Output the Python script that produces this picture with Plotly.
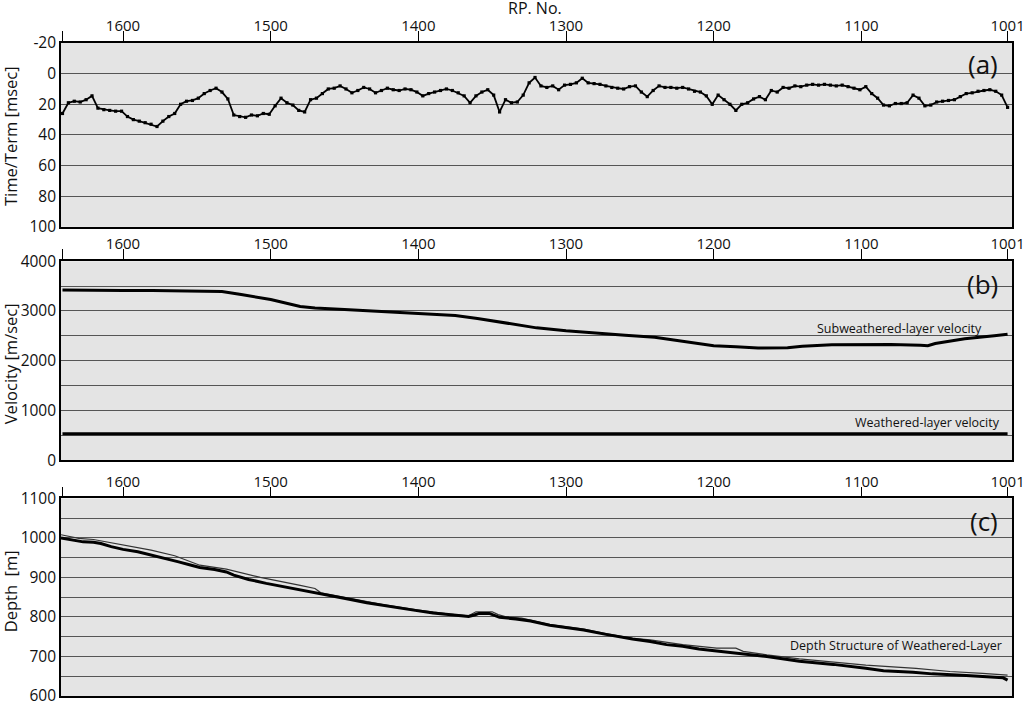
import plotly.graph_objects as go

# ---------------- data ----------------
# (a) Time/Term [msec] vs RP number (every 4 RP from 1641 to 1001)
rp_a = list(range(1641, 1000, -4))
term_a = [26, 19, 18, 18.5, 17, 14.5, 22.5, 23.5, 24, 24.5,
          24.5, 28, 30, 31, 32, 33, 34.5, 31, 28, 26,
          20, 18, 17.5, 16, 13, 11, 9.5, 12, 16.5, 27,
          28, 28.5, 27, 27.5, 26, 26.5, 21, 16, 19, 20.5,
          24, 25, 17, 16, 13, 10, 9.5, 8, 10, 12.5,
          11, 9, 10, 12.5, 11, 9.5, 10.5, 11, 10, 10.5,
          12, 14.5, 13, 12, 11, 10, 11, 12.5, 14.5, 19,
          14.5, 12, 10.5, 14, 25, 17, 19, 18.5, 14, 6,
          2.5, 8, 9, 8, 10.5, 7.5, 7, 6, 3, 6,
          6.5, 7, 8, 9, 9.5, 10, 8.5, 8, 12, 15,
          11, 8, 9, 9, 9.5, 9, 10, 11.5, 12, 14.5,
          20, 14, 17, 20, 24, 20, 19, 16.5, 15, 17,
          11, 12, 9, 9.5, 8, 8.5, 7.5, 7, 7.5, 7,
          7.5, 8, 7.5, 8.5, 9.5, 10.5, 8.5, 13, 16, 20.5,
          21, 19.5, 19.5, 19, 14, 16, 21, 20.5, 18.5, 18,
          17.5, 17, 15, 13, 12.5, 11.5, 11, 10.5, 11.5, 14,
          22]

# (b) velocities [m/sec]
rp_b = [1641, 1620, 1600, 1580, 1563, 1560, 1533, 1520, 1500, 1480,
        1470, 1450, 1430, 1410, 1390, 1375, 1360, 1340, 1320, 1300,
        1280, 1260, 1240, 1220, 1200, 1185, 1170, 1150, 1140, 1120,
        1100, 1080, 1060, 1055, 1050, 1030, 1010, 1001]
v_sub = [3420, 3410, 3410, 3410, 3405, 3390, 3390, 3330, 3230, 3090,
         3060, 3030, 3000, 2975, 2940, 2910, 2850, 2760, 2660, 2600,
         2550, 2510, 2470, 2380, 2300, 2280, 2255, 2260, 2290, 2320,
         2325, 2325, 2310, 2300, 2345, 2440, 2500, 2530]
rp_w = [1641, 1001]
v_weath = [530, 530]

# (c) depth [m]
rp_c1 = [1642, 1637, 1627, 1620, 1615, 1608, 1600, 1590, 1581, 1570,
         1563, 1555, 1548, 1538, 1530, 1525, 1515, 1503, 1490, 1480,
         1467, 1457, 1446, 1435, 1424, 1412, 1401, 1390, 1379, 1366,
         1362, 1359, 1352, 1348, 1345, 1334, 1324, 1311, 1300, 1288,
         1273, 1255, 1243, 1232, 1221, 1210, 1198, 1182, 1164, 1142,
         1119, 1097, 1085, 1065, 1052, 1029, 1010, 1004, 1001]
depth_thick = [1000, 997, 990, 989, 986, 978, 971, 965, 957, 948,
               940, 932, 925, 920, 914, 906, 895, 885, 876, 868,
               859, 853, 844, 836, 829, 822, 816, 810, 805, 801,
               805, 809, 809, 804, 799, 795, 790, 779, 773, 767,
               756, 744, 738, 730, 726, 719, 714, 708, 700, 688,
               680, 670, 664, 660, 656, 652, 648, 646, 640]
rp_c2 = [1642, 1630, 1620, 1600, 1581, 1565, 1548, 1530, 1507, 1480,
         1470, 1466, 1446, 1424, 1401, 1379, 1366, 1361, 1350, 1346,
         1340, 1330, 1311, 1288, 1273, 1255, 1243, 1221, 1198, 1185,
         1180, 1164, 1142, 1119, 1097, 1063, 1040, 1018, 1001]
depth_thin = [1008, 999, 996, 982, 969, 955, 931, 921, 900, 880,
              872, 861, 846, 831, 818, 807, 803, 813, 813, 806,
              800, 797, 781, 769, 758, 746, 742, 730, 721, 721,
              713, 704, 694, 685, 678, 670, 662, 657, 653]

x_ticks = [1641, 1600, 1500, 1400, 1300, 1200, 1100, 1001]
x_ticktext = ["", "1600", "1500", "1400", "1300", "1200", "1100", "1001"]

FONT = "Open Sans"
BG = "#e4e4e4"
GRID = "#555555"

fig = go.Figure()
fig.add_trace(go.Scatter(x=rp_a, y=term_a, mode="lines+markers",
                         line=dict(color="black", width=1.8),
                         marker=dict(color="black", size=3.2, symbol="square"),
                         xaxis="x", yaxis="y", showlegend=False))
fig.add_trace(go.Scatter(x=rp_b, y=v_sub, mode="lines",
                         line=dict(color="black", width=3),
                         xaxis="x2", yaxis="y2", showlegend=False))
fig.add_trace(go.Scatter(x=rp_w, y=v_weath, mode="lines",
                         line=dict(color="black", width=3),
                         xaxis="x2", yaxis="y2", showlegend=False))
fig.add_trace(go.Scatter(x=rp_c2, y=depth_thin, mode="lines",
                         line=dict(color="#333333", width=1.2),
                         xaxis="x3", yaxis="y3", showlegend=False))
fig.add_trace(go.Scatter(x=rp_c1, y=depth_thick, mode="lines",
                         line=dict(color="black", width=3),
                         xaxis="x3", yaxis="y3", showlegend=False))

def xax(anchor):
    return dict(range=[1642, 998], anchor=anchor, side="top",
                tickvals=x_ticks, ticktext=x_ticktext,
                ticks="outside", ticklen=10, tickwidth=1.2, tickcolor="black",
                ticklabelstandoff=-6,
                showgrid=False, zeroline=False, automargin=False,
                ticklabeloverflow="allow",
                showline=True, mirror=True, linecolor="black", linewidth=1.6,
                tickfont=dict(family=FONT, size=15, color="#111"))

def yax(domain, rng, vals, text):
    return dict(domain=domain, range=rng, anchor=None,
                tickvals=vals, ticktext=text, ticks="",
                showgrid=True, gridcolor=GRID, gridwidth=1.2,
                zeroline=False, automargin=False,
                ticklabeloverflow="allow",
                showline=True, mirror=True, linecolor="black", linewidth=1.6,
                tickfont=dict(family=FONT, size=15.5, color="#111"))

ya = yax([0.7184, 1.0], [100, -20], [-20, 0, 20, 40, 60, 80, 100],
         ["-20", "0", "20", "40", "60", "80", "100"])
ya["anchor"] = "x"
yb = yax([0.3612, 0.6658], [0, 4000],
         [0, 500, 1000, 1500, 2000, 2500, 3000, 3500, 4000],
         ["0", "", "1000", "", "2000", "", "3000", "", "4000"])
yb["anchor"] = "x2"
yc = yax([0.0, 0.3026], [600, 1100],
         [600, 650, 700, 750, 800, 850, 900, 950, 1000, 1050, 1100],
         ["600", "", "700", "", "800", "", "900", "", "1000", "", "1100"])
yc["anchor"] = "x3"

fig.update_layout(
    width=1023, height=702,
    margin=dict(l=61, r=11, t=43, b=6, autoexpand=False),
    paper_bgcolor="white", plot_bgcolor=BG,
    font=dict(family=FONT, color="#111"),
    xaxis=xax("y"), xaxis2=xax("y2"), xaxis3=xax("y3"),
    yaxis=ya, yaxis2=yb, yaxis3=yc,
)

ann = []
# axis titles
ann.append(dict(text="RP. No.", xref="paper", yref="paper", x=0.498, y=1.0535,
                xanchor="center", yanchor="middle", showarrow=False,
                font=dict(family=FONT, size=16)))
for txt, yy in [("Time/Term [msec]", 0.857), ("Velocity [m/sec]", 0.509),
                ("Depth  [m]", 0.1597)]:
    ann.append(dict(text=txt, xref="paper", yref="paper", x=-0.0530, y=yy,
                    xanchor="center", yanchor="middle", textangle=-90,
                    showarrow=False, font=dict(family=FONT, size=16.5)))
# panel labels
for txt, yr, yy in [("(a)", "y", -6.5), ("(b)", "y2", 3538), ("(c)", "y3", 1043)]:
    ann.append(dict(text=txt, xref="paper", yref=yr, x=0.9874, y=yy,
                    xanchor="right", yanchor="middle", showarrow=False,
                    font=dict(family=FONT, size=26)))
# curve annotations
ann.append(dict(text="Subweathered-layer velocity", xref="paper", yref="y2",
                x=0.9706, y=2653, xanchor="right", yanchor="middle",
                showarrow=False, font=dict(family=FONT, size=12.5)))
ann.append(dict(text="Weathered-layer velocity", xref="paper", yref="y2",
                x=0.990, y=764, xanchor="right", yanchor="middle",
                showarrow=False, font=dict(family=FONT, size=12.5)))
ann.append(dict(text="Depth Structure of Weathered-Layer", xref="paper", yref="y3",
                x=0.9916, y=727, xanchor="right", yanchor="middle",
                showarrow=False, font=dict(family=FONT, size=12.5)))
fig.update_layout(annotations=ann)

fig.write_html("out.html",
               config={"displayModeBar": False},
               post_script="document.body.style.margin='0';"
                           "document.body.style.padding='0';"
                           "document.body.style.overflow='hidden';")
